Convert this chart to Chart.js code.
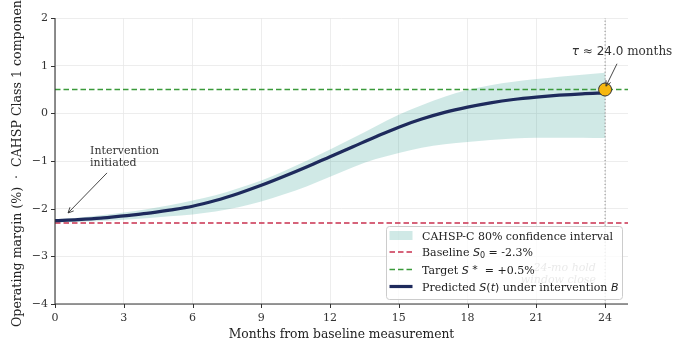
<!DOCTYPE html>
<html>
<head>
<meta charset="utf-8">
<script src="https://cdn.jsdelivr.net/npm/chart.js@4.4.1/dist/chart.umd.min.js"></script>
<style>
  html, body { margin: 0; padding: 0; background: #ffffff; }
  #wrap { width: 681px; height: 341px; position: relative; }
</style>
</head>
<body>
<div id="wrap"><canvas id="c" width="681" height="341"></canvas></div>
<script>
// ---- data ----
const months = [0,1,2,3,4,5,6,7,8,9,10,11,12,13,14,15,16,17,18,19,20,21,22,23,24];
const predicted = [-2.25,-2.23,-2.20,-2.15,-2.10,-2.03,-1.95,-1.83,-1.68,-1.51,-1.32,-1.12,-0.91,-0.70,-0.49,-0.29,-0.12,0.02,0.13,0.22,0.29,0.34,0.38,0.41,0.43];
const ciUpper = [-2.22,-2.19,-2.14,-2.08,-2.01,-1.93,-1.83,-1.72,-1.57,-1.41,-1.21,-0.99,-0.76,-0.52,-0.27,-0.03,0.17,0.35,0.49,0.59,0.66,0.72,0.77,0.81,0.85];
const ciLower = [-2.29,-2.28,-2.26,-2.23,-2.20,-2.16,-2.12,-2.06,-1.97,-1.85,-1.70,-1.53,-1.33,-1.13,-0.96,-0.83,-0.72,-0.65,-0.60,-0.56,-0.53,-0.51,-0.51,-0.51,-0.52];
const xTicks = [0,3,6,9,12,15,18,21,24];
const yTicks = [-4,-3,-2,-1,0,1,2];
const baselineValue = -2.3;
const targetValue = 0.5;
const tauMonths = 24.0;
const xRange = [0, 25];
const yRange = [-4, 2];

const SERIF = '"DejaVu Serif", "Liberation Serif", serif';
const SANS = '"DejaVu Sans", "Liberation Sans", sans-serif';
const NAVY = '#1e2a5c';
const RED = '#c9304f';
const GREEN = '#3b9a3b';
const BAND = 'rgba(42,157,143,0.22)';
const GOLD = '#f6b70f';

const pts = (ys) => months.map((m, i) => ({x: m, y: ys[i]}));

const decor = {
  id: 'decor',
  afterDraw(chart) {
    const ctx = chart.ctx;
    const xs = chart.scales.x, ys = chart.scales.y;
    const X = v => xs.getPixelForValue(v), Y = v => ys.getPixelForValue(v);
    const a = chart.chartArea;
    ctx.save();
    // spines + tick marks
    ctx.strokeStyle = '#333333';
    ctx.lineWidth = 1.1;
    ctx.beginPath();
    ctx.moveTo(a.left, a.top); ctx.lineTo(a.left, a.bottom); ctx.lineTo(a.right, a.bottom);
    ctx.stroke();
    ctx.lineWidth = 1;
    ctx.beginPath();
    xTicks.forEach(t => { const px = Math.round(X(t)) + 0.5; ctx.moveTo(px, a.bottom); ctx.lineTo(px, a.bottom + 4); });
    yTicks.forEach(t => { const py = Math.round(Y(t)) + 0.5; ctx.moveTo(a.left, py); ctx.lineTo(a.left - 4, py); });
    ctx.stroke();

    // arrow helper
    function arrow(x1, y1, x2, y2) {
      ctx.strokeStyle = '#333333'; ctx.lineWidth = 0.9;
      ctx.beginPath(); ctx.moveTo(x1, y1); ctx.lineTo(x2, y2); ctx.stroke();
      const ang = Math.atan2(y2 - y1, x2 - x1);
      const L = 6, W = 0.45;
      ctx.beginPath();
      ctx.moveTo(x2 - L * Math.cos(ang - W), y2 - L * Math.sin(ang - W));
      ctx.lineTo(x2, y2);
      ctx.lineTo(x2 - L * Math.cos(ang + W), y2 - L * Math.sin(ang + W));
      ctx.stroke();
    }
    // Intervention annotation
    ctx.fillStyle = '#333333';
    ctx.font = '11px ' + SERIF;
    ctx.textAlign = 'left'; ctx.textBaseline = 'middle';
    ctx.fillText('Intervention', X(1.53), Y(-0.79));
    ctx.fillText('initiated', X(1.53), Y(-1.04));
    arrow(X(2.27), Y(-1.25), X(0.57), Y(-2.09));

    // tau annotation
    const ty = Y(1.29);
    const parts = [
      {t: 'τ', f: 'italic 12px ' + SANS},
      {t: ' ≈ 24.0', f: '12px ' + SANS},
      {t: ' months', f: '12px ' + SERIF}
    ];
    let tw = 0;
    parts.forEach(p => { ctx.font = p.f; p.w = ctx.measureText(p.t).width; tw += p.w; });
    let tx = X(24.74) - tw / 2;
    ctx.fillStyle = '#333333';
    parts.forEach(p => { ctx.font = p.f; ctx.fillText(p.t, tx, ty); tx += p.w; });
    arrow(X(24.52), Y(1.04), X(24.04), Y(0.57));

    // faint hold-window text (behind legend)
    ctx.fillStyle = '#8a8a8a';
    ctx.font = 'italic 11px ' + SERIF;
    ctx.textAlign = 'right';
    ctx.fillText('24-mo hold', X(23.6), Y(-3.25));
    ctx.fillText('window close', X(23.6), Y(-3.5));

    // legend
    const lx = a.right - 242, ly = a.bottom - 78, lw = 236, lh = 73;
    ctx.fillStyle = 'rgba(255,255,255,0.82)';
    ctx.strokeStyle = '#cccccc'; ctx.lineWidth = 1;
    ctx.beginPath();
    if (ctx.roundRect) ctx.roundRect(lx + 0.5, ly + 0.5, lw, lh, 3); else ctx.rect(lx + 0.5, ly + 0.5, lw, lh);
    ctx.fill(); ctx.stroke();
    const hx = lx + 3.5, hw = 23, txt = lx + 36;
    const rows = [ly + 9.5, ly + 26, ly + 43.5, ly + 60.5];
    // band swatch
    ctx.fillStyle = BAND;
    ctx.fillRect(hx, rows[0] - 4.5, hw, 9);
    // red dashed
    ctx.setLineDash([5.5, 3]);
    ctx.lineWidth = 1.6;
    ctx.strokeStyle = RED;
    ctx.beginPath(); ctx.moveTo(hx, rows[1]); ctx.lineTo(hx + hw, rows[1]); ctx.stroke();
    ctx.strokeStyle = GREEN;
    ctx.beginPath(); ctx.moveTo(hx, rows[2]); ctx.lineTo(hx + hw, rows[2]); ctx.stroke();
    ctx.setLineDash([]);
    ctx.strokeStyle = NAVY; ctx.lineWidth = 3.2;
    ctx.beginPath(); ctx.moveTo(hx, rows[3]); ctx.lineTo(hx + hw, rows[3]); ctx.stroke();

    ctx.fillStyle = '#222222';
    ctx.textAlign = 'left'; ctx.textBaseline = 'alphabetic';
    function seg(list, y) {
      let x = txt;
      list.forEach(s => {
        ctx.font = s.f;
        ctx.fillText(s.t, x, y + (s.dy || 0));
        x += ctx.measureText(s.t).width;
      });
    }
    const F = '11px ' + SERIF, FI = 'italic 11px ' + SANS, FS = '11px ' + SANS, FSub = '8px ' + SANS;
    seg([{t: 'CAHSP-C 80% confidence interval', f: F}], rows[0] + 4);
    seg([{t: 'Baseline ', f: F}, {t: 'S', f: FI}, {t: '0', f: FSub, dy: 2}, {t: ' = -2.3%', f: F}], rows[1] + 4);
    seg([{t: 'Target ', f: F}, {t: 'S', f: FI}, {t: ' *', f: FS, dy: -1}, {t: '  = +0.5%', f: F}], rows[2] + 4);
    seg([{t: 'Predicted ', f: F}, {t: 'S', f: FI}, {t: '(', f: FS}, {t: 't', f: FI}, {t: ')', f: FS}, {t: ' under intervention ', f: F}, {t: 'B', f: FI}], rows[3] + 4);
    ctx.restore();
  }
};

new Chart(document.getElementById('c'), {
  type: 'line',
  data: {
    datasets: [
      { label: 'tau', data: [{x: tauMonths, y: targetValue}], showLine: false, pointRadius: 6.5, pointHoverRadius: 6.5,
        pointBackgroundColor: GOLD, pointBorderColor: '#333333', pointBorderWidth: 1, order: 0 },
      { label: 'Predicted', data: pts(predicted), borderColor: NAVY, borderWidth: 3.2, pointRadius: 0,
        cubicInterpolationMode: 'monotone', fill: false, order: 1 },
      { label: 'Target', data: [{x: xRange[0], y: targetValue}, {x: xRange[1], y: targetValue}], borderColor: GREEN,
        borderWidth: 1.5, borderDash: [5.5, 3], pointRadius: 0, fill: false, order: 2 },
      { label: 'Baseline', data: [{x: xRange[0], y: baselineValue}, {x: xRange[1], y: baselineValue}], borderColor: RED,
        borderWidth: 1.5, borderDash: [5.5, 3], pointRadius: 0, fill: false, order: 3 },
      { label: 'vline', data: [{x: tauMonths, y: yRange[0]}, {x: tauMonths, y: yRange[1]}], borderColor: '#888888',
        borderWidth: 1, borderDash: [1.2, 2.2], pointRadius: 0, fill: false, order: 4 },
      { label: 'ciUpper', data: pts(ciUpper), borderWidth: 0, borderColor: 'rgba(0,0,0,0)', pointRadius: 0,
        cubicInterpolationMode: 'monotone', backgroundColor: BAND, fill: '+1', order: 5 },
      { label: 'ciLower', data: pts(ciLower), borderWidth: 0, borderColor: 'rgba(0,0,0,0)', pointRadius: 0,
        cubicInterpolationMode: 'monotone', fill: false, order: 6 }
    ]
  },
  options: {
    responsive: false,
    animation: false,
    devicePixelRatio: 1,
    layout: { padding: { top: 18, right: 53, left: 0, bottom: 0 } },
    plugins: { legend: { display: false }, tooltip: { enabled: false } },
    scales: {
      x: {
        type: 'linear', min: xRange[0], max: xRange[1],
        afterFit: s => { s.height = 37; },
        afterBuildTicks: s => { s.ticks = xTicks.map(v => ({value: v})); },
        grid: { color: '#e8e8e8', lineWidth: 0.8, drawTicks: false },
        border: { display: false },
        ticks: { padding: 8, color: '#333333', font: { family: SERIF, size: 11 }, maxRotation: 0,
                 callback: v => String(v) },
        title: { display: true, text: 'Months from baseline measurement', color: '#222222',
                 font: { family: SERIF, size: 12.3 }, padding: { top: 0, bottom: -1 } }
      },
      y: {
        type: 'linear', min: yRange[0], max: yRange[1],
        afterFit: s => { s.width = 55; },
        afterBuildTicks: s => { s.ticks = yTicks.map(v => ({value: v})); },
        grid: { color: '#e8e8e8', lineWidth: 0.8, drawTicks: false },
        border: { display: false },
        ticks: { padding: 7, color: '#333333', font: { family: SERIF, size: 11 },
                 callback: v => String(v).replace('-', '\u2212') },
        title: { display: true, text: 'Operating margin (%)  \u00b7  CAHSP Class 1 component', color: '#222222',
                 font: { family: SERIF, size: 12.6 }, padding: { top: 10, bottom: 0 } }
      }
    }
  },
  plugins: [decor]
});
</script>
</body>
</html>
